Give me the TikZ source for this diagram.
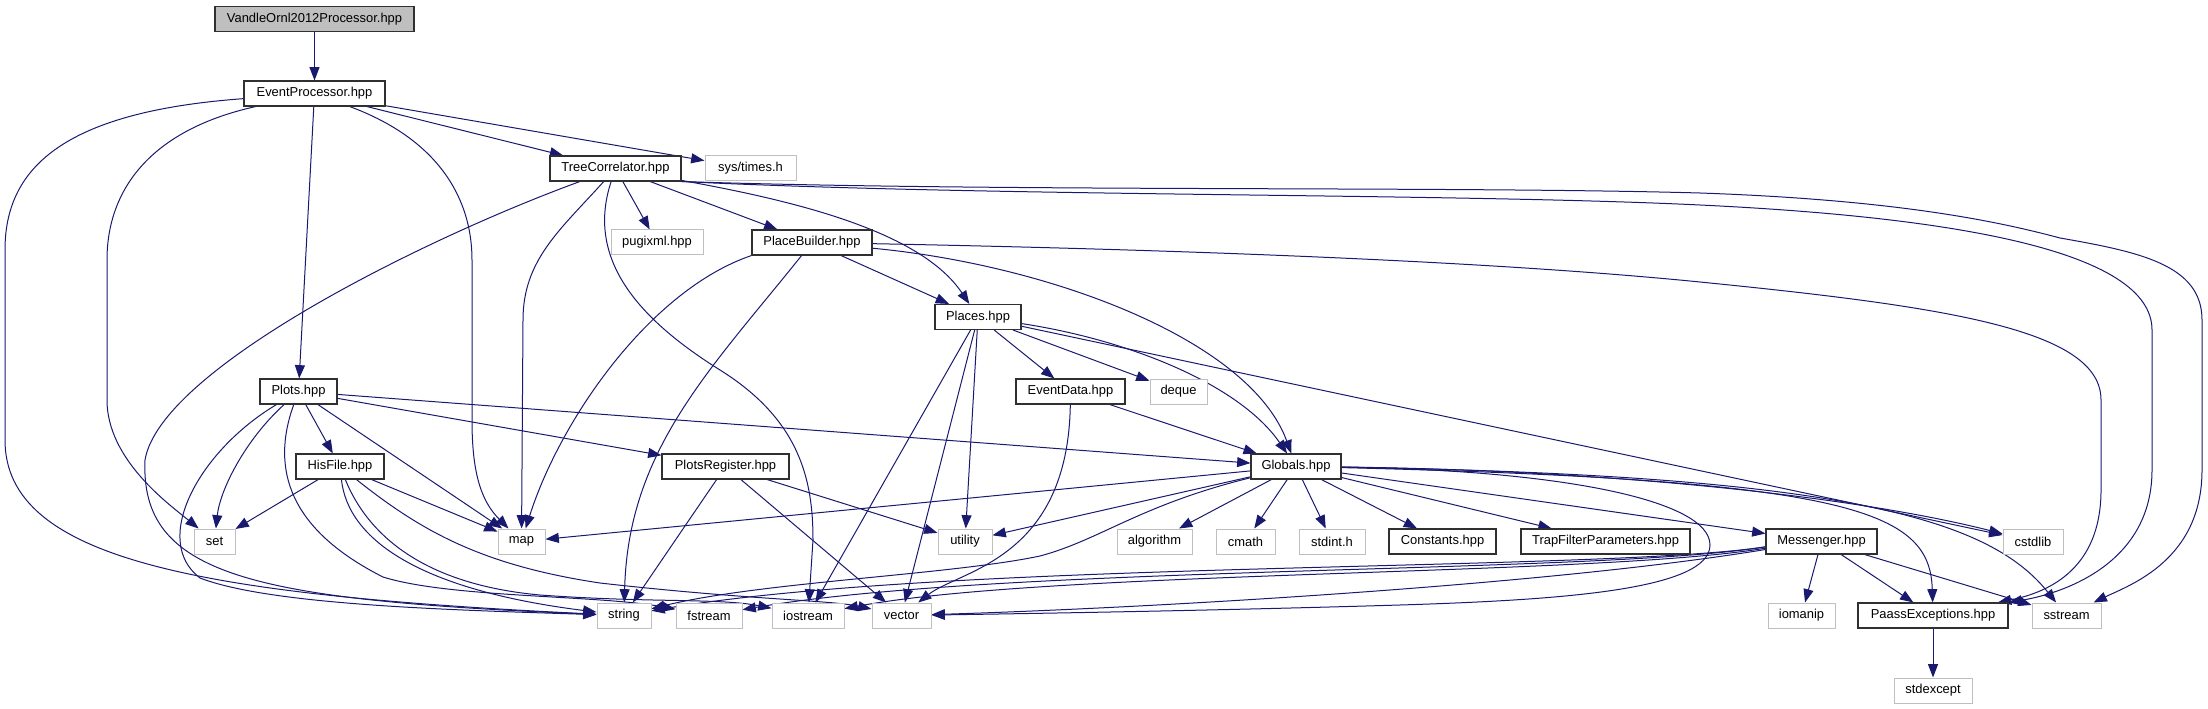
\documentclass[tikz,border=0pt]{standalone}
\usepackage{fontspec}
\setmainfont{Liberation Sans}
\usetikzlibrary{arrows.meta}
\definecolor{edgeblue}{HTML}{191970}
\definecolor{lgray}{HTML}{BFBFBF}
\definecolor{dgray}{HTML}{303030}
\pgfdeclarelayer{edges}
\pgfsetlayers{edges,main}
\begin{document}
\begin{tikzpicture}[x=0.75pt,y=-0.75pt,
  every node/.style={font=\fontsize{9.7}{11}\selectfont, inner sep=0pt, minimum height=18.75pt, anchor=center},
  doc/.style={draw=dgray, line width=0.8pt, fill=white},
  sys/.style={draw=lgray, line width=0.75pt, fill=white},
  wd/.style={minimum width=#1*0.75pt},
  dep/.style={draw=edgeblue, line width=0.75pt, -{Triangle[length=10pt,width=7.5pt]}}]
\useasboundingbox (0,0) rectangle (2208,709);
% row 0
\node[doc, fill=lgray, wd=199] (V) at (314.5,19) {VandleOrnl2012Processor.hpp};
% row 1
\node[doc, wd=141] (EP) at (314.5,93.5) {EventProcessor.hpp};
% row 2
\node[doc, wd=131] (TC) at (615.5,168.5) {TreeCorrelator.hpp};
\node[sys, wd=91] (times) at (750.5,168.5) {sys/times.h};
% row 3
\node[sys, wd=92] (pugi) at (657,242.5) {pugixml.hpp};
\node[doc, wd=120] (PB) at (812,242.5) {PlaceBuilder.hpp};
% row 4
\node[doc, wd=86] (Places) at (978,317) {Places.hpp};
% row 5
\node[doc, wd=77] (Plots) at (298.5,391.5) {Plots.hpp};
\node[doc, wd=109] (ED) at (1070.5,391.5) {EventData.hpp};
\node[sys, wd=57] (deque) at (1178.5,391.5) {deque};
% row 6
\node[doc, wd=88] (HisFile) at (340,466.5) {HisFile.hpp};
\node[doc, wd=127] (PR) at (725.5,466.5) {PlotsRegister.hpp};
\node[doc, wd=90] (Globals) at (1296,466.5) {Globals.hpp};
% row 7
\node[sys, wd=41] (set) at (214.5,541.5) {set};
\node[sys, wd=47] (map) at (521.5,541.5) {map};
\node[sys, wd=54] (utility) at (965,541.5) {utility};
\node[sys, wd=75] (algorithm) at (1154.5,541.5) {algorithm};
\node[sys, wd=59] (cmath) at (1245.5,541.5) {cmath};
\node[sys, wd=66] (stdint) at (1332,541.5) {stdint.h};
\node[doc, wd=107] (Constants) at (1442.5,541.5) {Constants.hpp};
\node[doc, wd=169] (Trap) at (1605.5,541.5) {TrapFilterParameters.hpp};
\node[doc, wd=111] (Messenger) at (1821.5,541.5) {Messenger.hpp};
\node[sys, wd=60] (cstdlib) at (2033,541.5) {cstdlib};
% row 8
\node[sys, wd=54] (string) at (624,615.5) {string};
\node[sys, wd=66] (fstream) at (709,615.5) {fstream};
\node[sys, wd=72] (iostream) at (808,615.5) {iostream};
\node[sys, wd=59] (vector) at (901.5,615.5) {vector};
\node[sys, wd=67] (iomanip) at (1801.5,615.5) {iomanip};
\node[doc, wd=150] (Paass) at (1933,615.5) {PaassExceptions.hpp};
\node[sys, wd=69] (sstream) at (2066.5,615.5) {sstream};
% row 9
\node[sys, wd=78] (stdexcept) at (1933,690.5) {stdexcept};

\begin{pgfonlayer}{edges}
\draw[dep] (V) -- (EP);
% EventProcessor
\draw[dep] (EP) .. controls (60,112) and (5,170) .. (5,250) -- (5,440) .. controls (5,560) and (200,595) .. (string);
\draw[dep] (EP) .. controls (150,130) and (107,190) .. (107,260) -- (107,400) .. controls (107,460) and (170,505) .. (set);
\draw[dep] (EP) -- (Plots);
\draw[dep] (EP) .. controls (440,140) and (472,200) .. (472,260) -- (472,420) .. controls (472,470) and (480,500) .. (map);
\draw[dep] (EP) -- (TC);
\draw[dep] (EP) -- (times);
% TreeCorrelator
\draw[dep] (TC) .. controls (420,240) and (160,370) .. (145,460) .. controls (140,575) and (250,600) .. (string);
\draw[dep] (TC) .. controls (560,230) and (523,260) .. (523,320) -- (map);
\draw[dep] (TC) .. controls (585,260) and (640,320) .. (720,370) .. controls (800,420) and (813,480) .. (813,540) -- (iostream);
\draw[dep] (TC) -- (pugi);
\draw[dep] (TC) -- (PB);
\draw[dep] (TC) .. controls (790,200) and (920,230) .. (Places);
\draw[dep] (TC.south east) .. controls (1000,192) and (1450,186) .. (1700,193) .. controls (1900,200) and (2000,222) .. (2060,238) .. controls (2140,252) and (2202,265) .. (2202,320) -- (2202,470) .. controls (2202,560) and (2130,585) .. (sstream);
\draw[dep] (TC.south east) .. controls (1000,197) and (1450,193) .. (1700,205) .. controls (1950,217) and (2152,250) .. (2152,330) -- (2152,470) .. controls (2152,560) and (2070,592) .. (Paass);
% PlaceBuilder
\draw[dep] (PB) .. controls (1200,250) and (1500,262) .. (1700,282) .. controls (1950,307) and (2101,330) .. (2101,400) -- (2101,490) .. controls (2101,560) and (2060,590) .. (Paass);
\draw[dep] (PB.south west) .. controls (650,290) and (560,420) .. (map);
\draw[dep] (PB) .. controls (710,370) and (628,450) .. (string);
\draw[dep] (PB) -- (Places);
\draw[dep] (PB) .. controls (1050,265) and (1250,340) .. (Globals);
% Places
\draw[dep] (Places) -- (iostream);
\draw[dep] (Places) -- (vector);
\draw[dep] (Places) -- (utility);
\draw[dep] (Places) -- (ED);
\draw[dep] (Places) -- (deque);
\draw[dep] (Places) -- (cstdlib);
\draw[dep] (Places) .. controls (1130,340) and (1240,385) .. (Globals);
% EventData
\draw[dep] (ED) -- (Globals);
\draw[dep] (ED) .. controls (1068,560) and (960,570) .. (vector);
% Plots
\draw[dep] (Plots) .. controls (245,440) and (220,490) .. (set);
\draw[dep] (Plots) .. controls (200,450) and (150,540) .. (200,578) .. controls (270,605) and (450,610) .. (string);
\draw[dep] (Plots) .. controls (270,470) and (290,530) .. (383,577) .. controls (450,598) and (600,595) .. (fstream);
\draw[dep] (Plots) -- (HisFile);
\draw[dep] (Plots) -- (map);
\draw[dep] (Plots) -- (PR);
\draw[dep] (Plots) -- (Globals);
% HisFile
\draw[dep] (HisFile) -- (set);
\draw[dep] (HisFile) -- (map);
\draw[dep] (HisFile) .. controls (348,540) and (420,590) .. (string);
\draw[dep] (HisFile) .. controls (370,540) and (430,585) .. (540,595) .. controls (650,603) and (720,598) .. (iostream);
\draw[dep] (HisFile) .. controls (420,530) and (480,565) .. (600,583) .. controls (750,600) and (830,600) .. (vector);
% PlotsRegister
\draw[dep] (PR) -- (string);
\draw[dep] (PR) -- (utility);
\draw[dep] (PR) -- (vector);
% Globals
\draw[dep] (Globals) -- (map);
\draw[dep] (Globals) -- (utility);
\draw[dep] (Globals) .. controls (1140,505) and (1100,540) .. (1040,556) .. controls (950,575) and (760,582) .. (string);
\draw[dep] (Globals) -- (algorithm);
\draw[dep] (Globals) -- (cmath);
\draw[dep] (Globals) -- (stdint);
\draw[dep] (Globals) -- (Constants);
\draw[dep] (Globals) -- (Trap);
\draw[dep] (Globals) -- (Messenger);
\draw[dep] (Globals) .. controls (1850,480) and (1930,510) .. (Paass);
\draw[dep] (Globals) .. controls (1850,475) and (1990,520) .. (sstream);
\draw[dep] (Globals) .. controls (1600,470) and (1850,495) .. (cstdlib);
\draw[dep] (Globals) .. controls (1560,470) and (1710,500) .. (1710,545) .. controls (1710,590) and (1560,600) .. (1400,605) .. controls (1200,611) and (1000,614) .. (vector);
% Messenger
\draw[dep] ([yshift=-4pt]Messenger.west) .. controls (1600,572) and (950,560) .. (string);
\draw[dep] ([yshift=-4pt]Messenger.west) .. controls (1600,574) and (1000,565) .. (fstream);
\draw[dep] ([yshift=-5pt]Messenger.west) .. controls (1600,576) and (1050,570) .. (iostream);
\draw[dep] ([yshift=-6pt]Messenger.west) .. controls (1550,585) and (1150,608) .. (vector);
\draw[dep] (Messenger) -- (iomanip);
\draw[dep] (Messenger) -- (Paass);
\draw[dep] (Messenger) -- (sstream);
% PaassExceptions
\draw[dep] (Paass) -- (stdexcept);
\end{pgfonlayer}
\end{tikzpicture}
\end{document}
